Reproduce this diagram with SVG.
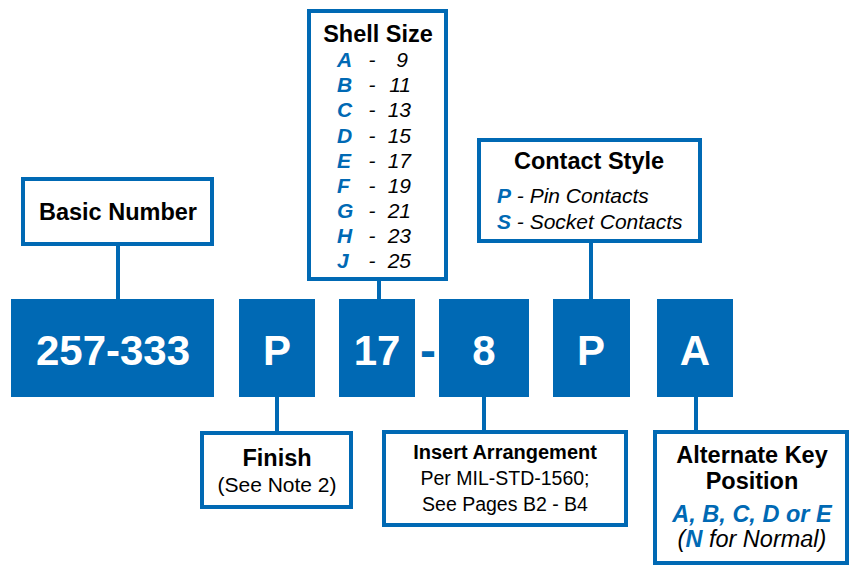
<svg xmlns="http://www.w3.org/2000/svg" width="851" height="572" viewBox="0 0 851 572">
<style>
.box{fill:#fff;stroke:#0069B4;stroke-width:4}
.blk{fill:#0069B4}
.con{stroke:#0069B4;stroke-width:4;fill:none}
text{font-family:"Liberation Sans",Arial,sans-serif}
.ttl{font-weight:bold;font-size:23.5px;fill:#000;text-anchor:middle}
.big{font-weight:bold;font-size:42px;fill:#fff;text-anchor:middle}
.it{font-style:italic;font-size:21px;fill:#000}
.bl{font-style:italic;font-weight:bold;fill:#0069B4}
.reg{font-size:21px;fill:#000;text-anchor:middle}
</style>
<rect width="851" height="572" fill="#fff"/>
<g id="connectors">
<line class="con" x1="118" y1="244" x2="118" y2="300"/>
<line class="con" x1="379" y1="279" x2="379" y2="300"/>
<line class="con" x1="591" y1="241" x2="591" y2="300"/>
<line class="con" x1="277" y1="396" x2="277" y2="433"/>
<line class="con" x1="484" y1="396" x2="484" y2="432"/>
<line class="con" x1="696" y1="396" x2="696" y2="432"/>
</g>
<g id="basic-number">
<rect class="box" x="23" y="179" width="189" height="65"/>
<text class="ttl" x="118" y="220">Basic Number</text>
</g>
<g id="shell-size">
<rect class="box" x="309" y="11" width="137" height="268"/>
<text class="ttl" x="378" y="42">Shell Size</text>
<g class="it">
<text x="337" y="67"><tspan class="bl">A</tspan></text>
<text x="337" y="92"><tspan class="bl">B</tspan></text>
<text x="337" y="117"><tspan class="bl">C</tspan></text>
<text x="337" y="143"><tspan class="bl">D</tspan></text>
<text x="337" y="168"><tspan class="bl">E</tspan></text>
<text x="337" y="193"><tspan class="bl">F</tspan></text>
<text x="337" y="218"><tspan class="bl">G</tspan></text>
<text x="337" y="243"><tspan class="bl">H</tspan></text>
<text x="337" y="268"><tspan class="bl">J</tspan></text>
</g>
<g class="it" text-anchor="middle">
<text x="372" y="67">-</text><text x="372" y="92">-</text><text x="372" y="117">-</text>
<text x="372" y="143">-</text><text x="372" y="168">-</text><text x="372" y="193">-</text>
<text x="372" y="218">-</text><text x="372" y="243">-</text><text x="372" y="268">-</text>
</g>
<g class="it" text-anchor="end">
<text x="408" y="67">9</text><text x="411" y="92">11</text><text x="411" y="117">13</text>
<text x="411" y="143">15</text><text x="411" y="168">17</text><text x="411" y="193">19</text>
<text x="411" y="218">21</text><text x="411" y="243">23</text><text x="411" y="268">25</text>
</g>
</g>
<g id="contact-style">
<rect class="box" x="479" y="140" width="221" height="101"/>
<text class="ttl" x="589" y="169">Contact Style</text>
<text class="it" x="497" y="203"><tspan class="bl">P</tspan> - Pin Contacts</text>
<text class="it" x="497" y="229"><tspan class="bl">S</tspan> - Socket Contacts</text>
</g>
<g id="code-257-333">
<rect class="blk" x="11" y="299" width="203" height="98"/>
<text class="big" x="113" y="365">257-333</text>
</g>
<g id="code-P1">
<rect class="blk" x="239" y="299" width="76" height="98"/>
<text class="big" x="277" y="365">P</text>
</g>
<g id="code-17">
<rect class="blk" x="339" y="299" width="76" height="98"/>
<text class="big" x="377" y="365">17</text>
</g>
<text x="428" y="367" font-size="48" font-weight="bold" fill="#0069B4" text-anchor="middle" font-family="Liberation Sans, Arial, sans-serif">-</text>
<g id="code-8">
<rect class="blk" x="439" y="299" width="90" height="98"/>
<text class="big" x="484" y="365">8</text>
</g>
<g id="code-P2">
<rect class="blk" x="553" y="299" width="77" height="98"/>
<text class="big" x="591" y="365">P</text>
</g>
<g id="code-A">
<rect class="blk" x="657" y="299" width="76" height="98"/>
<text class="big" x="695" y="365">A</text>
</g>
<g id="finish">
<rect class="box" x="202" y="433" width="149" height="74"/>
<text class="ttl" x="277" y="466">Finish</text>
<text class="reg" x="277" y="492">(See Note 2)</text>
</g>
<g id="insert-arrangement">
<rect class="box" x="384" y="432" width="242" height="93"/>
<text class="ttl" x="505" y="459" style="font-size:20px">Insert Arrangement</text>
<text class="reg" x="505" y="485" style="font-size:19.5px">Per MIL-STD-1560;</text>
<text class="reg" x="505" y="511" style="font-size:19.5px">See Pages B2 - B4</text>
</g>
<g id="alternate-key">
<rect class="box" x="655" y="432" width="192" height="131"/>
<text class="ttl" x="752" y="463">Alternate Key</text>
<text class="ttl" x="752" y="489">Position</text>
<text class="bl" x="752" y="522" style="font-size:23.5px" text-anchor="middle">A, B, C, D or E</text>
<text class="it" x="752" y="547" style="font-size:23.5px" text-anchor="middle">(<tspan class="bl">N</tspan> for Normal)</text>
</g>
</svg>
